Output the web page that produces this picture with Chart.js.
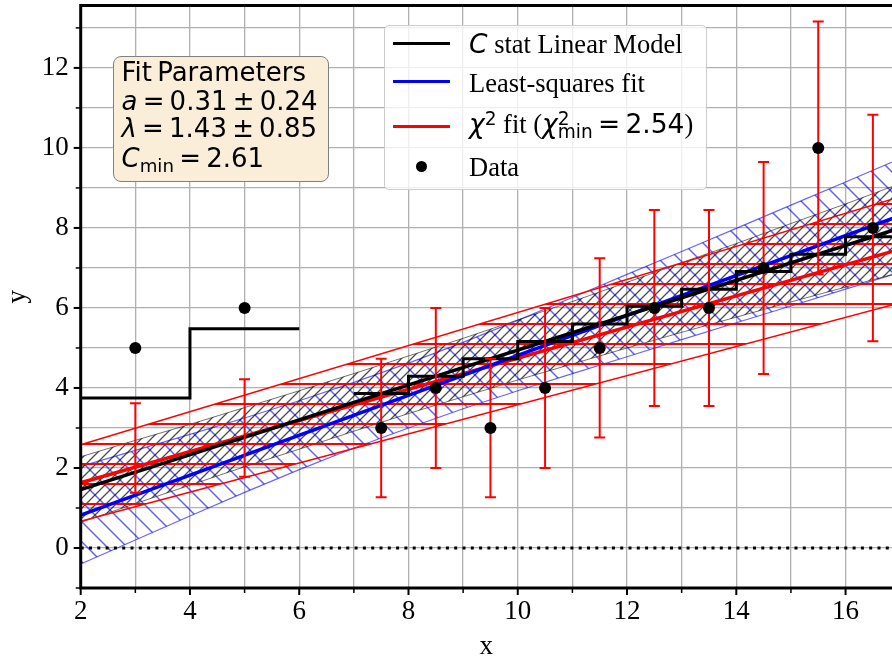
<!DOCTYPE html>
<html>
<head>
<meta charset="utf-8">
<script src="https://cdn.jsdelivr.net/npm/chart.js@4.4.1/dist/chart.umd.min.js"></script>
<style>
  html, body { margin: 0; padding: 0; background: #fff; }
  #wrap { position: relative; width: 892px; height: 660px; overflow: hidden; }
  #chart { position: absolute; left: 0; top: 0; }
  .abs { position: absolute; white-space: nowrap; }
  .serif { font-family: "Liberation Serif", "Times New Roman", serif; font-size: 26.5px; line-height: 1; color: #000; }
  .sans { font-family: "DejaVu Sans", sans-serif; font-size: 26px; line-height: 1; color: #000; }
  .m { font-family: "DejaVu Sans", sans-serif; }
  .mi { font-family: "DejaVu Sans", sans-serif; font-style: italic; }
  .sup { font-size: 0.7em; position: relative; top: -0.42em; }
  .sub { font-size: 0.7em; position: relative; top: 0.28em; }
  #params { left: 113px; top: 56px; width: 216px; height: 126px; box-sizing: border-box;
            background: #faeed9; border: 1.3px solid #808080; border-radius: 8px; }
  #legend { left: 384px; top: 25px; width: 323px; height: 165px; box-sizing: border-box;
            background: rgba(255,255,255,0.8); border: 1.3px solid #cccccc; border-radius: 5px; }
  .swatch { position: absolute; left: 393px; width: 57px; height: 3px; }
  .dot { position: absolute; left: 416px; top: 161px; width: 11px; height: 11px; border-radius: 50%; background: #000; }
</style>
</head>
<body>
<div id="wrap">
  <canvas id="chart" width="892" height="660"></canvas>

  <div id="params" class="abs"></div>
  <div class="abs sans" style="left:121.5px; top:59px;">Fit&thinsp;Parameters</div>
  <div class="abs sans" style="left:121.5px; top:88px;"><span class="mi">a</span>&thinsp;=&thinsp;0.31&thinsp;±&thinsp;0.24</div>
  <div class="abs sans" style="left:121.5px; top:114.5px;"><span class="mi">λ</span>&thinsp;=&thinsp;1.43&thinsp;±&thinsp;0.85</div>
  <div class="abs sans" style="left:121.5px; top:144.5px;"><span class="mi">C</span><span class="sub">min</span>&thinsp;=&thinsp;2.61</div>

  <div id="legend" class="abs"></div>
  <div class="swatch" style="top:42px; background:#000;"></div>
  <div class="swatch" style="top:79.5px; background:#0000ff;"></div>
  <div class="swatch" style="top:124.5px; background:#ff0000;"></div>
  <div class="dot"></div>
  <div class="abs serif" style="left:469px; top:31px;"><span class="mi">C</span> stat Linear Model</div>
  <div class="abs serif" style="left:469px; top:69.5px;">Least-squares fit</div>
  <div class="abs serif" style="left:469px; top:111px;"><span class="mi">χ</span><span class="sup m">2</span> fit (<span class="mi">χ</span><span class="sup m">2</span><span class="sub m" style="margin-left:-0.64em;">min</span><span class="m">&thinsp;=&thinsp;2.54</span>)</div>
  <div class="abs serif" style="left:469px; top:153.5px;">Data</div>
</div>

<script>
// observed counts, binned (first two bins are 2 wide)
const dataX = [3, 5, 7.5, 8.5, 9.5, 10.5, 11.5, 12.5, 13.5, 14.5, 15.5, 16.5];
const dataY = [5, 6, 3, 4, 3, 4, 5, 6, 6, 7, 10, 8];
const barLow = [1.38, 1.78, 1.27, 2.0, 1.27, 2.0, 2.76, 3.55, 3.55, 4.35, 6.84, 5.17];
const barHigh = [3.62, 4.22, 4.73, 6.0, 4.73, 6.0, 7.24, 8.45, 8.45, 9.65, 13.16, 10.83];

// C stat binned model (steps)
const stepEdges = [2, 4, 6, null, 7, 8, 9, 10, 11, 12, 13, 14, 15, 16, 17];
const stepLevels = [3.75, 5.48, 5.48, null, 3.86, 4.29, 4.73, 5.16, 5.60, 6.04, 6.47, 6.91, 7.34, 7.78, 7.78];

// fitted lines
const lineX = [2, 17];
const cstatLine = [1.46, 8.00];
const lsqLine = [0.82, 8.31];
const chiLine = [1.63, 7.47];

// uncertainty bands
const bandX = [2, 3, 4, 5, 6, 7, 8, 9, 10, 11, 12, 13, 14, 15, 16, 17];
const cstatUpper = [2.28, 2.69, 3.09, 3.51, 3.93, 4.36, 4.80, 5.24, 5.70, 6.16, 6.64, 7.13, 7.61, 8.11, 8.60, 9.11];
const cstatLower = [0.64, 1.11, 1.57, 2.03, 2.47, 2.92, 3.36, 3.78, 4.20, 4.60, 5.00, 5.39, 5.77, 6.15, 6.52, 6.89];
const lsqUpper = [2.04, 2.44, 2.84, 3.25, 3.68, 4.14, 4.62, 5.14, 5.69, 6.26, 6.84, 7.41, 7.99, 8.57, 9.15, 9.73];
const lsqLower = [-0.40, 0.20, 0.80, 1.39, 1.96, 2.50, 3.00, 3.48, 3.93, 4.36, 4.78, 5.21, 5.63, 6.05, 6.47, 6.89];
const chiUpper = [2.58, 8.78];
const chiLower = [0.67, 6.13];

const zeroY = [0, 0];

function pts(xs, ys) {
  return xs.map((x, i) => ({ x: x === null ? 6.5 : x, y: ys[i] }));
}

function hatch(kind, color, lw, size, off = 0) {
  const c = document.createElement("canvas");
  c.width = size;
  c.height = size;
  const g = c.getContext("2d");
  g.strokeStyle = color;
  g.lineWidth = lw;
  g.beginPath();
  if (kind === "/") {
    g.moveTo(-1, size + 1); g.lineTo(size + 1, -1);
    g.moveTo(-size / 2 - 1, size / 2 + 1); g.lineTo(size / 2 + 1, -size / 2 - 1);
    g.moveTo(size / 2 - 1, size * 1.5 + 1); g.lineTo(size * 1.5 + 1, size / 2 - 1);
  } else if (kind === "\\") {
    g.moveTo(-1, -1); g.lineTo(size + 1, size + 1);
    g.moveTo(size / 2 - 1, -size / 2 - 1); g.lineTo(size * 1.5 + 1, size / 2 + 1);
    g.moveTo(-size / 2 - 1, size / 2 - 1); g.lineTo(size / 2 + 1, size * 1.5 + 1);
  } else {
    g.moveTo(0, off); g.lineTo(size, off);
  }
  g.stroke();
  return g.createPattern(c, "repeat");
}

const grayHatch = hatch("/", "rgba(0,0,0,0.7)", 1.3, 10);
const blueHatch = hatch("\\", "rgba(0,0,255,0.62)", 1.5, 20);
const redHatch = hatch("-", "#ff0000", 2, 20, 4);

const errPts = dataX.flatMap((x, i) => [
  { x, y: barLow[i] },
  { x, y: barHigh[i] },
  { x, y: null },
]);

const serif = '"Liberation Serif", "Times New Roman", serif';

const axesDecor = {
  id: "axesDecor",
  afterDraw(chart) {
    const { ctx, chartArea: a, scales } = chart;
    ctx.save();
    ctx.strokeStyle = "#000";
    ctx.lineCap = "butt";
    scales.x.ticks.forEach((t) => {
      const px = scales.x.getPixelForValue(t.value);
      const major = t.value % 2 === 0;
      ctx.lineWidth = major ? 2 : 1.5;
      ctx.beginPath();
      ctx.moveTo(px, a.bottom);
      ctx.lineTo(px, a.bottom + (major ? 7 : 5));
      ctx.stroke();
    });
    scales.y.ticks.forEach((t) => {
      const py = scales.y.getPixelForValue(t.value);
      const major = t.value % 2 === 0;
      ctx.lineWidth = major ? 2 : 1.5;
      ctx.beginPath();
      ctx.moveTo(a.left, py);
      ctx.lineTo(a.left - (major ? 7 : 5), py);
      ctx.stroke();
    });
    ctx.lineWidth = 3;
    ctx.beginPath();
    ctx.moveTo(a.left, a.bottom);
    ctx.lineTo(a.left, a.top);
    ctx.lineTo(a.right + 2, a.top);
    ctx.moveTo(a.left - 1.5, a.bottom);
    ctx.lineTo(a.right + 2, a.bottom);
    ctx.stroke();
    ctx.restore();
  },
};

const lineDefaults = { pointRadius: 0, pointHoverRadius: 0, fill: false, showLine: true };

function fitX(s) {
  s.height = 72;
  s.paddingLeft = 0;
  s.paddingRight = 0;
}

function fitY(s) {
  s.width = 80.7;
  s.paddingTop = 0;
  s.paddingBottom = 0;
}

new Chart(document.getElementById("chart"), {
  type: "line",
  data: {
    datasets: [
      {
        label: "Data",
        data: pts(dataX, dataY),
        showLine: false,
        pointRadius: 6,
        pointHoverRadius: 6,
        pointBackgroundColor: "#000",
        pointBorderWidth: 0,
        order: 0,
      },
      {
        label: "errors",
        data: errPts,
        showLine: true,
        borderColor: "#ff0000",
        borderWidth: 2,
        pointStyle: "line",
        pointRadius: 5.5,
        pointHoverRadius: 5.5,
        pointBorderColor: "#ff0000",
        pointBorderWidth: 2,
        spanGaps: false,
        order: 1,
      },
      {
        ...lineDefaults,
        label: "C stat model",
        data: pts(stepEdges, stepLevels),
        borderColor: "#000",
        borderWidth: 3,
        stepped: "before",
        spanGaps: false,
        order: 2,
      },
      { ...lineDefaults, label: "C stat Linear Model", data: pts(lineX, cstatLine), borderColor: "#000", borderWidth: 3.5, order: 3 },
      { ...lineDefaults, label: "Least-squares fit", data: pts(lineX, lsqLine), borderColor: "#0000ff", borderWidth: 3.5, order: 3 },
      { ...lineDefaults, label: "chi2 fit", data: pts(lineX, chiLine), borderColor: "#ff0000", borderWidth: 3.5, order: 3 },
      {
        ...lineDefaults,
        label: "zero",
        data: pts(lineX, zeroY),
        borderColor: "#000",
        borderWidth: 3,
        borderDash: [3, 5.3],
        order: 4,
      },
      { ...lineDefaults, label: "cstat hi", data: pts(bandX, cstatUpper), borderColor: "rgba(0,0,0,0.55)", borderWidth: 1, order: 6 },
      {
        ...lineDefaults,
        label: "cstat lo",
        data: pts(bandX, cstatLower),
        borderColor: "rgba(0,0,0,0.55)",
        borderWidth: 1,
        fill: "-1",
        backgroundColor: grayHatch,
        order: 6,
      },
      { ...lineDefaults, label: "lsq hi", data: pts(bandX, lsqUpper), borderColor: "rgba(0,0,255,0.6)", borderWidth: 1.2, order: 7 },
      {
        ...lineDefaults,
        label: "lsq lo",
        data: pts(bandX, lsqLower),
        borderColor: "rgba(0,0,255,0.6)",
        borderWidth: 1.2,
        fill: "-1",
        backgroundColor: blueHatch,
        order: 7,
      },
      { ...lineDefaults, label: "chi hi", data: pts(lineX, chiUpper), borderColor: "#ff0000", borderWidth: 1.5, order: 5 },
      {
        ...lineDefaults,
        label: "chi lo",
        data: pts(lineX, chiLower),
        borderColor: "#ff0000",
        borderWidth: 1.5,
        fill: "-1",
        backgroundColor: redHatch,
        order: 5,
      },
    ],
  },
  options: {
    responsive: false,
    animation: false,
    events: [],
    layout: { autoPadding: false, padding: { top: 5.5, right: 0, bottom: 0, left: 0 } },
    plugins: { legend: { display: false }, tooltip: { enabled: false } },
    scales: {
      x: {
        type: "linear",
        min: 2,
        max: 16.85,
        afterFit: fitX,
        border: { display: false },
        grid: { color: "#b0b0b0", lineWidth: 1.3, drawTicks: false },
        ticks: {
          stepSize: 1,
          includeBounds: false,
          autoSkip: false,
          maxRotation: 0,
          padding: 8,
          color: "#000",
          font: { family: serif, size: 27 },
          callback: (v) => (v % 2 === 0 ? String(v) : ""),
        },
        title: { display: true, text: "x", color: "#000", font: { family: serif, size: 27 }, padding: { top: 0, bottom: -3 } },
      },
      y: {
        min: -1,
        max: 13.56,
        afterFit: fitY,
        border: { display: false },
        grid: { color: "#b0b0b0", lineWidth: 1.3, drawTicks: false },
        ticks: {
          stepSize: 1,
          includeBounds: false,
          autoSkip: false,
          padding: 12,
          color: "#000",
          font: { family: serif, size: 27 },
          callback: (v) => (v % 2 === 0 ? String(v) : ""),
        },
        title: { display: true, text: "y", color: "#000", font: { family: serif, size: 27 }, padding: { top: 2, bottom: 0 } },
      },
    },
  },
  plugins: [axesDecor],
});
</script>
</body>
</html>
